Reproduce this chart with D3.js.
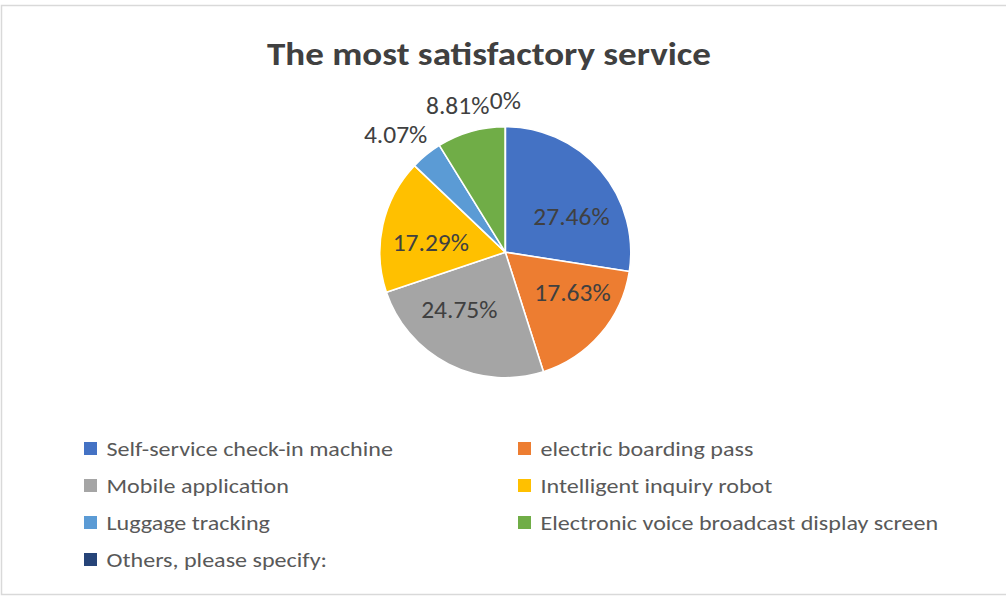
<!DOCTYPE html>
<html>
<head>
<meta charset="utf-8">
<script src="https://cdn.jsdelivr.net/npm/d3@7"></script>
<style>
  html, body { margin: 0; padding: 0; background: #ffffff; }
  svg { display: block; }
</style>
</head>
<body>
<svg id="chart" width="1006" height="597"></svg>
<script>
// Survey answers: which service was the most satisfactory (percent of respondents)
const categories = [
  "Self-service check-in machine",
  "electric boarding pass",
  "Mobile application",
  "Intelligent inquiry robot",
  "Luggage tracking",
  "Electronic voice broadcast display screen",
  "Others, please specify:"
];
const shares = [27.46, 17.63, 24.75, 17.29, 4.07, 8.81, 0];
const shareLabels = ["27.46%", "17.63%", "24.75%", "17.29%", "4.07%", "8.81%", "0%"];
const titleText = "The most satisfactory service";

const palette = ["#4472C4", "#ED7D31", "#A5A5A5", "#FFC000", "#5B9BD5", "#70AD47", "#264478"];

const W = 1006, H = 597;
const FONT = "Carlito, Calibri, Lato, 'Open Sans', sans-serif";
const CAP = 0.72;               // cap height as a fraction of the em
const svg = d3.select("#chart");

// chart-area frame
svg.append("rect")
  .attr("x", 1.5).attr("y", 5.5)
  .attr("width", W + 10).attr("height", 589)
  .attr("fill", "#ffffff")
  .attr("stroke", "#d9d9d9").attr("stroke-width", 1.5);

// narrow a text to a given width (the face is wider than the intended one)
function squeeze(sel, ratio) {
  sel.each(function () {
    const w = this.getComputedTextLength();
    d3.select(this)
      .attr("textLength", w * ratio)
      .attr("lengthAdjust", "spacingAndGlyphs");
  });
}
function naturalWidth(text, size, weight) {
  const t = svg.append("text")
    .attr("font-family", FONT).attr("font-size", size)
    .attr("font-weight", weight || "normal").text(text);
  const w = t.node().getComputedTextLength();
  t.remove();
  return w;
}

// title
const titleSize = 23.5 / CAP;
const title = svg.append("text")
  .attr("x", 489).attr("y", 65)
  .attr("text-anchor", "middle")
  .attr("font-family", FONT)
  .attr("font-weight", "bold")
  .attr("font-size", titleSize)
  .attr("fill", "#404040")
  .text(titleText);
squeeze(title, 444 / naturalWidth(titleText, titleSize, "bold"));

// pie
const cx = 505.3, cy = 252.2, R = 125.5;
const data = categories.map((c, i) => ({ name: c, value: shares[i], label: shareLabels[i], color: palette[i] }));

const pie = d3.pie().value(d => d.value).sort(null);
const arcs = pie(data);
const arc = d3.arc().innerRadius(0).outerRadius(R);
const inner = d3.arc().innerRadius(R * 0.6).outerRadius(R * 0.6);
const outer = d3.arc().innerRadius(R + 17).outerRadius(R + 17);

const g = svg.append("g").attr("transform", `translate(${cx},${cy})`);

g.selectAll("path.slice")
  .data(arcs)
  .join("path")
  .attr("class", "slice")
  .attr("d", arc)
  .attr("fill", d => d.data.color)
  .attr("stroke", "#ffffff")
  .attr("stroke-width", 1.6)
  .attr("stroke-linejoin", "round");

// small nudges so inside labels sit clear of the slice edges
const labelNudge = {
  "Self-service check-in machine": [9, 13],
  "electric boarding pass": [10, -9],
  "Mobile application": [-12, -10],
  "Intelligent inquiry robot": [-1, 7]
};

const labelCap = 17;
const labelSize = labelCap / CAP;
const labelRatio = 76.3 / naturalWidth("27.46%", labelSize);

g.selectAll("text.val")
  .data(arcs)
  .join("text")
  .attr("class", "val")
  .attr("font-family", FONT)
  .attr("font-size", labelSize)
  .attr("fill", "#404040")
  .attr("text-anchor", "middle")
  .text(d => d.data.label)
  .each(function (d) {
    const big = d.data.value >= 10;
    const w = this.getComputedTextLength() * labelRatio;
    let x, y;
    if (big) {
      [x, y] = inner.centroid(d);
      const n = labelNudge[d.data.name] || [0, 0];
      x += n[0]; y += n[1];
    } else {
      // outside: the label box hangs off an anchor just beyond the rim
      const a = (d.startAngle + d.endAngle) / 2;
      [x, y] = outer.centroid(d);
      x += Math.sin(a) * w / 2;
      y -= Math.cos(a) * (labelCap + 2) / 2;
    }
    d3.select(this)
      .attr("x", x)
      .attr("y", y + labelCap / 2)
      .attr("textLength", w)
      .attr("lengthAdjust", "spacingAndGlyphs");
  });

// legend: two columns, filled row by row
const legendCols = [84, 518];
const rowStep = 37;
const legendTop = 448.5;
const swatch = 13;

const legend = svg.append("g");
const items = legend.selectAll("g.item")
  .data(data)
  .join("g")
  .attr("class", "item")
  .attr("transform", (d, i) => `translate(${legendCols[i % 2]},${legendTop + Math.floor(i / 2) * rowStep})`);

items.append("rect")
  .attr("x", 0).attr("y", -swatch / 2)
  .attr("width", swatch).attr("height", swatch)
  .attr("fill", d => d.color);

const legendCap = 14;
const legendSize = legendCap / CAP;
const legendTexts = items.append("text")
  .attr("x", 22.5)
  .attr("y", legendCap / 2)
  .attr("font-family", FONT)
  .attr("font-size", legendSize)
  .attr("fill", "#595959")
  .text(d => d.name);

// scale all entries alike, set by the longest one
squeeze(legendTexts, 397.6 / naturalWidth(categories[5], legendSize));
</script>
</body>
</html>
